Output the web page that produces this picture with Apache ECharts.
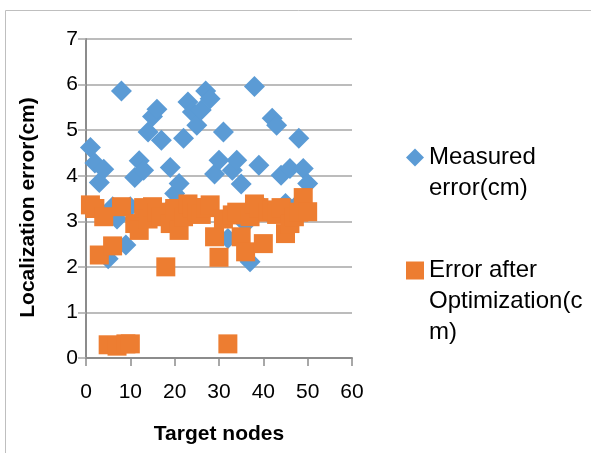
<!DOCTYPE html>
<html>
<head>
<meta charset="utf-8">
<script src="https://cdn.jsdelivr.net/npm/echarts@6/dist/echarts.min.js"></script>
<style>
  html, body { margin: 0; padding: 0; background: #fff; }
  #chart { width: 591px; height: 453px; }
</style>
</head>
<body>
<div id="chart"></div>
<script>
// Target node index (1..50)
const nodes = [1,2,3,4,5,6,7,8,9,10,11,12,13,14,15,16,17,18,19,20,21,22,23,24,25,
               26,27,28,29,30,31,32,33,34,35,36,37,38,39,40,41,42,43,44,45,46,47,48,49,50];

// Localization error measured before optimization (cm)
const measuredError = [4.62,4.28,3.85,4.14,2.18,3.32,3.05,5.86,2.48,3.32,
                       3.96,4.33,4.12,4.96,5.30,5.46,4.78,3.20,4.18,3.61,
                       3.83,4.82,5.62,5.40,5.11,5.44,5.86,5.69,4.04,4.34,
                       4.96,2.62,4.12,4.34,3.82,2.95,2.11,5.96,4.23,3.30,
                       3.20,5.26,5.11,4.01,3.39,4.16,3.30,4.82,4.16,3.83];

// Localization error after optimization (cm)
const optimizedError = [3.36,3.28,2.26,3.10,0.29,2.46,0.26,3.32,0.31,0.31,
                        2.95,2.80,3.30,3.05,3.32,3.20,3.10,2.00,2.95,3.28,
                        2.80,3.10,3.38,3.30,3.20,3.15,3.30,3.36,2.66,2.21,
                        3.05,0.31,3.14,3.20,2.66,2.33,3.10,3.38,3.30,2.51,
                        3.20,3.25,3.15,3.30,2.73,2.95,3.10,3.20,3.52,3.21];

const seriesNames = ['Measured error(cm)', 'Error after Optimization(cm)'];
// Wrapped legend lines; leading blank lines keep the icon level with the first line
const legendText = ['\nMeasured\nerror(cm)', '\n\nError after\nOptimization(c\nm)'];
const xTicks = { min: 0, max: 60, interval: 10 };
const yTicks = { min: 0, max: 7, interval: 1 };

const pairs = (xs, ys) => xs.map((x, i) => [x, ys[i]]);

const FONT = '"Liberation Sans", Arial, sans-serif';
const GRID_GRAY = '#a6a6a6';
const AXIS_GRAY = '#8c8c8c';

const chart = echarts.init(document.getElementById('chart'), null, { renderer: 'canvas' });

const legendCommon = {
  padding: 0,
  orient: 'vertical',
  itemWidth: 18, itemHeight: 18,
  selectedMode: false,
  textStyle: { fontFamily: FONT, fontSize: 24, lineHeight: 31, color: '#000' }
};

chart.setOption({
  backgroundColor: '#ffffff',
  animation: false,
  textStyle: { fontFamily: FONT },
  graphic: [{
    type: 'rect',
    silent: true,
    z: -10,
    shape: { x: 5.5, y: 10.5, width: 700, height: 600 },
    style: { fill: 'none', stroke: '#bfbfbf', lineWidth: 1 }
  }],
  grid: { left: 86, right: 239, top: 39, bottom: 95, containLabel: false },
  legend: [
    Object.assign({}, legendCommon, {
      data: [seriesNames[0]],
      left: 406, top: 111,
      formatter: () => legendText[0]
    }),
    Object.assign({}, legendCommon, {
      data: [seriesNames[1]],
      left: 406, top: 193,
      formatter: () => legendText[1]
    })
  ],
  xAxis: {
    type: 'value',
    min: xTicks.min, max: xTicks.max, interval: xTicks.interval,
    name: 'Target nodes',
    nameLocation: 'middle',
    nameGap: 66,
    nameTextStyle: { fontFamily: FONT, fontSize: 21, fontWeight: 'bold', color: '#000' },
    axisLine: { show: true, onZero: false, lineStyle: { color: AXIS_GRAY, width: 2 } },
    axisTick: { show: true, inside: false, length: 8, lineStyle: { color: AXIS_GRAY, width: 1.5 } },
    axisLabel: { fontFamily: FONT, fontSize: 21, color: '#000', margin: 24 },
    splitLine: { show: false }
  },
  yAxis: {
    type: 'value',
    min: yTicks.min, max: yTicks.max, interval: yTicks.interval,
    name: 'Localization error(cm)',
    nameLocation: 'middle',
    nameGap: 47,
    nameTextStyle: { fontFamily: FONT, fontSize: 21, fontWeight: 'bold', color: '#000', padding: [0, 18, 0, 0] },
    axisLine: { show: true, lineStyle: { color: AXIS_GRAY, width: 2 } },
    axisTick: { show: true, inside: false, length: 8, lineStyle: { color: GRID_GRAY, width: 1.5 } },
    axisLabel: { fontFamily: FONT, fontSize: 21, color: '#000', margin: 8 },
    splitLine: { show: true, lineStyle: { color: GRID_GRAY, width: 1.5 } }
  },
  series: [
    {
      name: seriesNames[0],
      type: 'scatter',
      symbol: 'diamond',
      symbolSize: 21,
      itemStyle: { color: '#5b9bd5', opacity: 1 },
      data: pairs(nodes, measuredError)
    },
    {
      name: seriesNames[1],
      type: 'scatter',
      symbol: 'rect',
      symbolSize: 19,
      itemStyle: { color: '#ed7d31', opacity: 1 },
      data: pairs(nodes, optimizedError)
    }
  ]
});
</script>
</body>
</html>
